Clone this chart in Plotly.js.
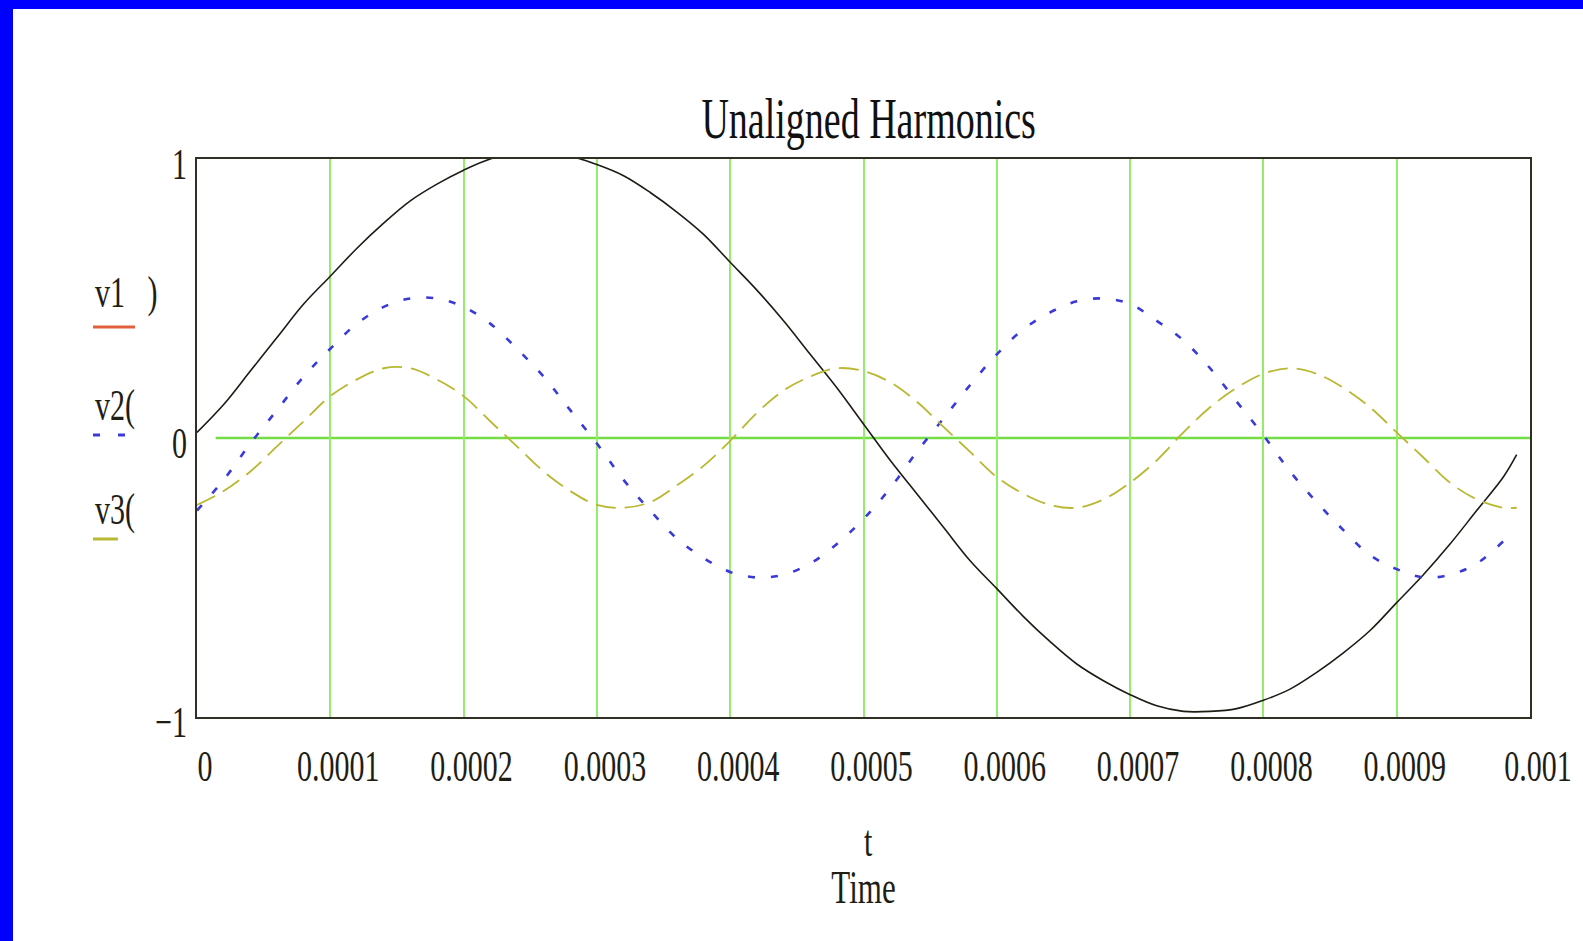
<!DOCTYPE html>
<html>
<head>
<meta charset="utf-8">
<script src="https://cdn.plot.ly/plotly-3.0.1.min.js"></script>
<style>
html,body{margin:0;padding:0;background:#fff;}
#wrap{width:1583px;height:941px;box-sizing:border-box;border-left:13px solid #0000ff;border-top:9px solid #0000ff;background:#fff;overflow:hidden;}
#chart{width:1570px;height:932px;}
</style>
</head>
<body>
<div id="wrap"><div id="chart"></div></div>
<script>
// time samples (s)
const t = [0,0.00002,0.00004,0.00006,0.00008,0.0001,0.00012,0.00014,0.00016,0.00018,
  0.0002,0.00022,0.00024,0.00026,0.00028,0.0003,0.00032,0.00034,0.00036,0.00038,
  0.0004,0.00042,0.00044,0.00046,0.00048,0.0005,0.00052,0.00054,0.00056,0.00058,
  0.0006,0.00062,0.00064,0.00066,0.00068,0.0007,0.00072,0.00074,0.00076,0.00078,
  0.0008,0.00082,0.00084,0.00086,0.00088,0.0009,0.00092,0.00094,0.00096,0.00098,0.00099];

// fundamental (black, solid)
const v1 = [0.02,0.12,0.24,0.36,0.48,0.58,0.68,0.77,0.85,0.91,
  0.96,1.00,1.02,1.02,1.01,0.98,0.94,0.88,0.81,0.73,
  0.63,0.53,0.42,0.30,0.18,0.05,-0.08,-0.20,-0.32,-0.44,
  -0.54,-0.64,-0.73,-0.81,-0.87,-0.92,-0.96,-0.98,-0.98,-0.97,
  -0.94,-0.90,-0.84,-0.77,-0.69,-0.59,-0.49,-0.38,-0.26,-0.14,-0.06];

// second harmonic (blue, dotted)
const v2 = [-0.26,-0.15,-0.02,0.10,0.22,0.32,0.41,0.47,0.50,0.50,
  0.47,0.41,0.32,0.22,0.10,-0.02,-0.15,-0.26,-0.36,-0.43,
  -0.48,-0.50,-0.49,-0.45,-0.38,-0.29,-0.18,-0.05,0.07,0.19,
  0.30,0.39,0.45,0.49,0.50,0.48,0.42,0.35,0.25,0.13,
  0.01,-0.12,-0.23,-0.33,-0.42,-0.47,-0.50,-0.49,-0.45,-0.37,null];

// third harmonic (yellow, dashed)
const v3 = [-0.24,-0.19,-0.12,-0.03,0.06,0.15,0.21,0.25,0.25,0.21,
  0.15,0.06,-0.03,-0.12,-0.19,-0.24,-0.25,-0.23,-0.17,-0.10,
  -0.01,0.09,0.17,0.22,0.25,0.24,0.20,0.13,0.04,-0.05,
  -0.14,-0.20,-0.24,-0.25,-0.22,-0.16,-0.08,0.02,0.11,0.18,
  0.23,0.25,0.23,0.18,0.11,0.02,-0.07,-0.16,-0.22,-0.25,-0.25];

const xTickVals = [0,0.0001,0.0002,0.0003,0.0004,0.0005,0.0006,0.0007,0.0008,0.0009,0.001];
const xTickText = ['0','0.0001','0.0002','0.0003','0.0004','0.0005','0.0006','0.0007','0.0008','0.0009','0.001'];
const yTickVals = [-1,0,1];
const yTickText = ['\u22121','0','1'];

const legendNames = ['v1\u00a0\u00a0\u00a0)','v2(','v3('];
const chartTitle = 'Unaligned Harmonics';
const xVarLabel = 't';
const xAxisLabel = 'Time';

const cBlack = '#1c1c14', cBlue = '#3a3ad8', cYellow = '#b8b832', cRed = '#e0603c';
const FONT = '"Liberation Serif", "Times New Roman", serif';

const traces = [
  {x:t, y:v1, type:'scatter', mode:'lines', name:legendNames[0],
   line:{color:cBlack, width:1.6, shape:'spline', smoothing:1}},
  {x:t, y:v2, type:'scatter', mode:'lines', name:legendNames[1],
   line:{color:cBlue, width:2.6, dash:'7px,16px', shape:'spline', smoothing:1}},
  {x:t, y:v3, type:'scatter', mode:'lines', name:legendNames[2],
   line:{color:cYellow, width:1.8, dash:'20px,9px', shape:'spline', smoothing:1}}
];

const layout = {
  width:1570, height:932,
  margin:{l:184, r:53, t:150, b:224},
  paper_bgcolor:'#ffffff', plot_bgcolor:'#ffffff',
  showlegend:false,
  font:{family:FONT, size:30, color:'#1e1e16'},
  title:{text:chartTitle, font:{family:FONT, size:38, color:'#111'},
         x:0.545, xref:'container', xanchor:'center', y:0.883, yref:'container', yanchor:'middle'},
  xaxis:{range:[0,0.001], tickvals:xTickVals, ticktext:xTickText, ticks:'',
         showgrid:true, gridcolor:'#95eb6a', gridwidth:2, zeroline:false,
         showline:true, mirror:true, linecolor:'#2f2f24', linewidth:2,
         ticklabelstandoff:21, ticklabelshift:8,
         title:{text:xAxisLabel, standoff:95, font:{family:FONT, size:31}},
         automargin:false, fixedrange:true},
  yaxis:{range:[-1,1], tickvals:yTickVals, ticktext:yTickText, ticks:'',
         showgrid:false, zeroline:false,
         showline:true, mirror:true, linecolor:'#2f2f24', linewidth:2,
         ticklabelstandoff:2, ticklabelshift:4, automargin:false, fixedrange:true},
  shapes:[
    {type:'line', xref:'x', yref:'y', x0:0.000014, x1:0.001, y0:0, y1:0,
     line:{color:'#74dc45', width:2.5}, layer:'below'},
    {type:'line', xref:'paper', yref:'paper', x0:-0.078, x1:-0.0465, y0:0.699, y1:0.699,
     line:{color:cRed, width:3}},
    {type:'line', xref:'paper', yref:'paper', x0:-0.078, x1:-0.0525, y0:0.5054, y1:0.5054,
     line:{color:cBlue, width:3, dash:'7px,18px'}},
    {type:'line', xref:'paper', yref:'paper', x0:-0.078, x1:-0.0593, y0:0.319, y1:0.319,
     line:{color:cYellow, width:3}}
  ],
  annotations:[
    {text:legendNames[0], xref:'paper', yref:'paper', x:-0.078, y:0.7616, xanchor:'left', yanchor:'middle', showarrow:false},
    {text:legendNames[1], xref:'paper', yref:'paper', x:-0.078, y:0.559, xanchor:'left', yanchor:'middle', showarrow:false},
    {text:legendNames[2], xref:'paper', yref:'paper', x:-0.078, y:0.373, xanchor:'left', yanchor:'middle', showarrow:false},
    {text:xVarLabel, xref:'paper', yref:'paper', x:0.5034, y:-0.2222, xanchor:'center', yanchor:'middle', showarrow:false}
  ]
};

function stretchText(gd, s){
  gd.querySelectorAll('svg text').forEach(function(el){
    if(el.getAttribute('data-stretched')) return;
    const b = el.getBBox();
    if(!b || !b.height) return;
    const cy = b.y + b.height/2;
    const tr = el.getAttribute('transform') || '';
    el.setAttribute('transform', tr + ' translate(0,' + cy + ') scale(1,' + s + ') translate(0,' + (-cy) + ')');
    el.setAttribute('data-stretched','1');
  });
}

Plotly.newPlot('chart', traces, layout, {displayModeBar:false, staticPlot:true}).then(function(gd){
  stretchText(gd, 1.48);
});
</script>
</body>
</html>
